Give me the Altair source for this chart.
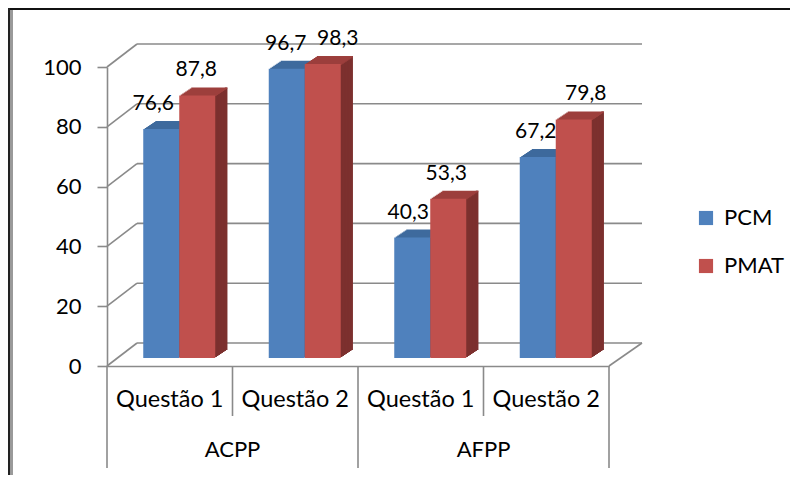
import altair as alt
import pandas as pd

# ---------------- data ----------------
groups = ["ACPP", "AFPP"]
questions = ["Questão 1", "Questão 2"]
series = ["PCM", "PMAT"]
pcm = [76.6, 96.7, 40.3, 67.2]
pmat = [87.8, 98.3, 53.3, 79.8]
y_ticks = [0, 20, 40, 60, 80, 100]

keys = [f"{g}|{q}" for g in groups for q in questions]
rows = []
for i, k in enumerate(keys):
    g, q = k.split("|")
    for s, vals in zip(series, [pcm, pmat]):
        rows.append({"key": k, "group": g, "question": q, "series": s, "value": vals[i]})
df = pd.DataFrame(rows)
ticks_df = pd.DataFrame({"v": y_ticks})
grp_df = pd.DataFrame({"group": groups, "key": [f"{g}|{questions[0]}" for g in groups]})
sep_df = pd.DataFrame({"key": keys, "question": [k.split("|")[1] for k in keys]})
one = pd.DataFrame({"d": [0]})

# ---------------- style ----------------
W, H = 502, 299
FONT = "Lato"
GRID = "#8a8a8a"
DX_L, DX_R, DEPTH_Y = 30, 33, -23
BAR_W = 36
BAR_DY = -8
STEPS = 8
SHIFT = {"PCM": -8.5, "PMAT": 27.5}
FRONT = {"PCM": "#4F81BD", "PMAT": "#C0504D"}
TOP = {"PCM": "#3E6A9D", "PMAT": "#9D3F3C"}
SIDE = {"PCM": "#345A87", "PMAT": "#7C302E"}
# manual label nudges (px), per series, in category order
LABEL_NUDGE = {"PCM": [-8, -1, -4, -2], "PMAT": [-1, 15, -2, 12]}

xs = alt.Scale(domain=keys, paddingInner=0, paddingOuter=0)
ys = alt.Scale(domain=[0, 100], nice=False)

x_axis = alt.Axis(title=None, labelExpr="split(datum.label, '|')[1]", labelAngle=0, ticks=False,
                  tickSize=0, domainColor=GRID, domainWidth=1.6, labelFont=FONT, labelFontSize=23.5,
                  labelColor="black", labelPadding=33, labelBaseline="middle", labelOverlap=False,
                  grid=False)
y_axis = alt.Axis(values=y_ticks, tickSize=10, tickWidth=1.6, tickColor=GRID, domainColor=GRID,
                  domainWidth=1.6, labelFont=FONT, labelFontSize=22, labelColor="black",
                  labelPadding=16, grid=False, title=None)


def xk(bp=0.5):
    return alt.X("key:N", scale=xs, bandPosition=bp, axis=x_axis, title=None)


def yv(field="value:Q"):
    return alt.Y(field, scale=ys, axis=y_axis, title=None)


layers = []

# outer frame
layers.append(alt.Chart(one).mark_rule(color="#111111", strokeWidth=2).encode(
    x=alt.value(-97), x2=alt.value(W + 183), y=alt.value(-58)))
layers.append(alt.Chart(one).mark_rule(color="#222222", strokeWidth=2).encode(
    x=alt.value(-98), y=alt.value(-59), y2=alt.value(H + 110)))
layers.append(alt.Chart(one).mark_rule(color="#9a9a9a", strokeWidth=3).encode(
    x=alt.value(-95.5), y=alt.value(-57), y2=alt.value(H + 110)))

# back wall gridlines
layers.append(alt.Chart(ticks_df).mark_rule(color=GRID, strokeWidth=1.6, yOffset=DEPTH_Y).encode(
    y=yv("v:Q"), x=alt.value(DX_L), x2=alt.value(W + DX_R)))
# left wall diagonals
layers.append(alt.Chart(ticks_df).mark_rule(color=GRID, strokeWidth=1.6, y2Offset=DEPTH_Y).encode(
    y=yv("v:Q"), y2=alt.Y2("v"), x=alt.value(0), x2=alt.value(DX_L)))
# floor right diagonal
layers.append(alt.Chart(ticks_df).transform_filter(alt.datum.v == 0).mark_rule(
    color=GRID, strokeWidth=1.6, y2Offset=DEPTH_Y).encode(
    y=yv("v:Q"), y2=alt.Y2("v"), x=alt.value(W), x2=alt.value(W + DX_R)))

# category separators
layers.append(alt.Chart(sep_df).transform_filter(alt.datum.question == questions[0]).mark_rule(
    color=GRID, strokeWidth=1.6).encode(x=xk(0), y=alt.value(H), y2=alt.value(H + 102)))
layers.append(alt.Chart(sep_df).transform_filter(alt.datum.question == questions[1]).mark_rule(
    color=GRID, strokeWidth=1.6).encode(x=xk(0), y=alt.value(H), y2=alt.value(H + 50)))
layers.append(alt.Chart(sep_df).transform_filter(alt.datum.key == keys[-1]).mark_rule(
    color=GRID, strokeWidth=1.6).encode(x=xk(1), y=alt.value(H), y2=alt.value(H + 102)))

# group labels
layers.append(alt.Chart(grp_df).mark_text(font=FONT, fontSize=22, color="black", baseline="middle").encode(
    x=xk(1), y=alt.value(H + 84), text="group:N"))

legend = alt.Legend(orient="none", legendX=588, legendY=140, title=None, symbolType="square",
                    symbolSize=200, symbolStrokeWidth=0, labelFont=FONT, labelFontSize=22,
                    labelColor="black", rowPadding=26, labelOffset=7, padding=0)
color = alt.Color("series:N", scale=alt.Scale(domain=series, range=[FRONT[s] for s in series]),
                  legend=legend)

# 3D bars
for s in series:
    d = alt.Chart(df).transform_filter(alt.datum.series == s)
    off = SHIFT[s]
    for k in range(1, STEPS + 1):
        layers.append(d.mark_bar(width=2.6, color=SIDE[s],
                                 xOffset=off + BAR_W / 2 + 1.5 * k - 1.1,
                                 yOffset=BAR_DY - k, y2Offset=BAR_DY - k).encode(
            x=xk(), y=yv()))
    for k in range(1, STEPS + 1):
        layers.append(d.mark_bar(width=BAR_W, color=TOP[s], xOffset=off + 1.5 * k,
                                 yOffset=BAR_DY - k, y2Offset=BAR_DY - k + 1.6).encode(
            x=xk(), y=yv(), y2=alt.Y2("value")))
    layers.append(d.mark_bar(width=BAR_W, xOffset=off, yOffset=BAR_DY, y2Offset=BAR_DY).encode(
        x=xk(), y=yv(), color=color))

# value labels
for s in series:
    for i, key in enumerate(keys):
        d = alt.Chart(df).transform_filter(
            (alt.datum.series == s) & (alt.datum.key == key)).transform_calculate(
            lbl="replace(format(datum.value, '.1f'), '.', ',')")
        layers.append(d.mark_text(font=FONT, fontSize=21, color="black", baseline="middle",
                                  dx=SHIFT[s] + LABEL_NUDGE[s][i], dy=BAR_DY - 25).encode(
            x=xk(), y=yv(), text="lbl:N"))

chart = alt.layer(*layers).properties(
    width=W, height=H, autosize="none",
    padding={"left": 99, "top": 59, "right": 181, "bottom": 109},
    background="white",
).configure_view(strokeWidth=0)

chart.save("out.html", embed_options={"renderer": "svg", "actions": False})
